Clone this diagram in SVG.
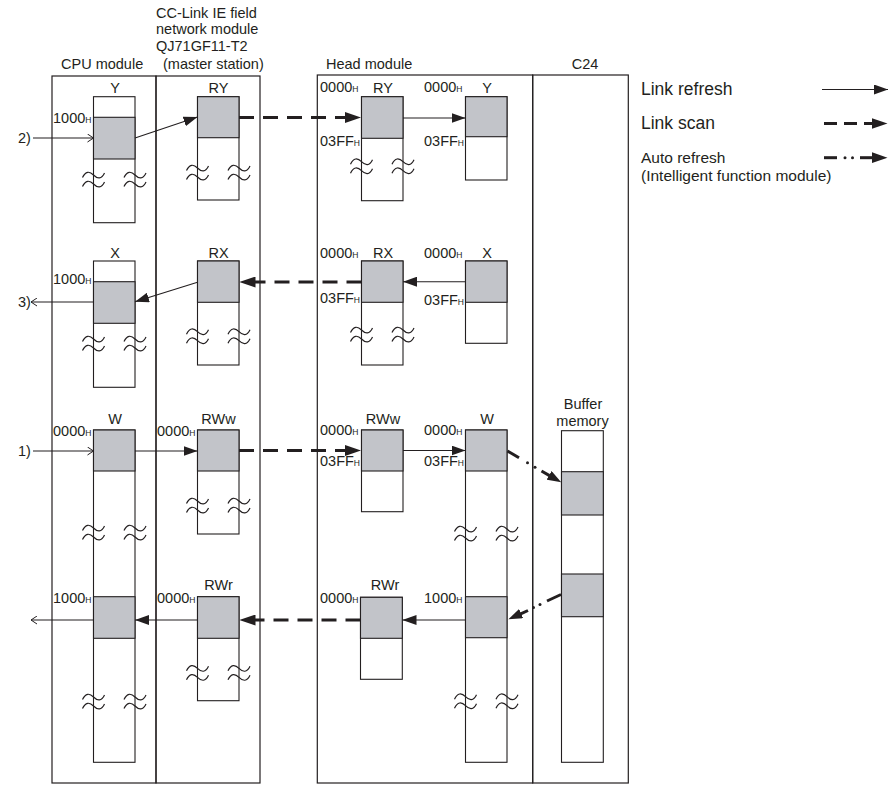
<svg xmlns="http://www.w3.org/2000/svg" width="895" height="785" viewBox="0 0 895 785">
<style>
text{font-family:"Liberation Sans",Arial,sans-serif;fill:#231f20;font-size:14.5px}
.m{text-anchor:middle}
.h{font-size:8.5px}
.box{fill:none;stroke:#231f20;stroke-width:1.2}
.col{fill:#fff;stroke:#231f20;stroke-width:1.1}
.g{fill:#c2c4c9;stroke:#231f20;stroke-width:1.1}
.sq{fill:none;stroke:#231f20;stroke-width:1.2}
.ln{fill:none;stroke:#231f20;stroke-width:1.1}
.ds{fill:none;stroke:#231f20;stroke-width:3;stroke-dasharray:15 9}
.th{fill:none;stroke:#231f20;stroke-width:3}
.dot{fill:#231f20}
.lg{font-size:17.5px}
.lg2{font-size:15.5px}
</style>
<defs>
<marker id="ah" viewBox="0 0 14 10" refX="14" refY="5" markerWidth="14" markerHeight="10" markerUnits="userSpaceOnUse" orient="auto"><path d="M0,0 L14,5 L0,10 Z" fill="#231f20"/></marker>
<marker id="ahd" viewBox="0 0 16 11" refX="0.5" refY="5.5" markerWidth="16" markerHeight="11" markerUnits="userSpaceOnUse" orient="auto"><path d="M0,0 L16,5.5 L0,11 Z" fill="#231f20"/></marker>
<marker id="ahs" viewBox="0 0 14 10" refX="0.5" refY="5" markerWidth="14" markerHeight="10" markerUnits="userSpaceOnUse" orient="auto"><path d="M0,0 L14,5 L0,10 Z" fill="#231f20"/></marker>
<marker id="op" viewBox="0 0 7 9" refX="6.5" refY="4.5" markerWidth="7" markerHeight="9" markerUnits="userSpaceOnUse" orient="auto"><path d="M0.5,0.5 L6.5,4.5 L0.5,8.5" fill="none" stroke="#231f20" stroke-width="1"/></marker>
<g id="sq">
<path class="sq" d="M-11,-2.5 C-8,-9 -4,-9 0,-5 S8,-0.5 11,-7"/>
<path class="sq" d="M-11,6.5 C-8,0 -4,0 0,4 S8,8.5 11,2"/>
</g>
</defs>

<!-- CPU module -->
<g id="cpu-module">
<rect class="box" x="52" y="76" width="104" height="707"/>
<text x="61" y="69">CPU module</text>
<g id="cpu-y">
<text class="m" x="115" y="92.5">Y</text>
<rect class="col" x="93.5" y="96.7" width="41.5" height="126"/>
<rect class="g" x="93.5" y="117.3" width="41.5" height="41.7"/>
<text x="53" y="123">1000<tspan class="h">H</tspan></text>
<use href="#sq" x="93.5" y="180"/><use href="#sq" x="135" y="180"/>
</g>
<g id="cpu-x">
<text class="m" x="115" y="257.5">X</text>
<rect class="col" x="93.5" y="261" width="41.5" height="126.3"/>
<rect class="g" x="93.5" y="281.7" width="41.5" height="41.6"/>
<text x="53" y="284">1000<tspan class="h">H</tspan></text>
<use href="#sq" x="93.5" y="344"/><use href="#sq" x="135" y="344"/>
</g>
<g id="cpu-w">
<text class="m" x="115" y="423.5">W</text>
<rect class="col" x="93.5" y="430" width="41.5" height="332.3"/>
<rect class="g" x="93.5" y="430" width="41.5" height="41"/>
<rect class="g" x="93.5" y="596.7" width="41.5" height="41.6"/>
<text x="53" y="436">0000<tspan class="h">H</tspan></text>
<text x="53" y="602.5">1000<tspan class="h">H</tspan></text>
<use href="#sq" x="93.5" y="533"/><use href="#sq" x="135" y="533"/>
<use href="#sq" x="93.5" y="702"/><use href="#sq" x="135" y="702"/>
</g>
</g>

<!-- CC-Link IE field network module -->
<g id="cclink-module">
<rect class="box" x="156" y="76" width="104" height="707"/>
<text x="156" y="17.5">CC-Link IE field</text>
<text x="156" y="34">network module</text>
<text x="156" y="51">QJ71GF11-T2</text>
<text x="163" y="69">(master station)</text>
<g id="cc-ry">
<text class="m" x="218.5" y="92.5">RY</text>
<rect class="col" x="197.5" y="96.7" width="41.5" height="103.3"/>
<rect class="g" x="197.5" y="96.7" width="41.5" height="41"/>
<use href="#sq" x="197.5" y="173"/><use href="#sq" x="239" y="173"/>
</g>
<g id="cc-rx">
<text class="m" x="218.5" y="257.5">RX</text>
<rect class="col" x="197.5" y="261" width="41.5" height="104"/>
<rect class="g" x="197.5" y="261" width="41.5" height="41.3"/>
<use href="#sq" x="197.5" y="336.7"/><use href="#sq" x="239" y="336.7"/>
</g>
<g id="cc-rww">
<text class="m" x="218.5" y="423.5">RWw</text>
<rect class="col" x="197.5" y="430" width="41.5" height="104"/>
<rect class="g" x="197.5" y="430" width="41.5" height="41"/>
<text x="157" y="436">0000<tspan class="h">H</tspan></text>
<use href="#sq" x="197.5" y="506"/><use href="#sq" x="239" y="506"/>
</g>
<g id="cc-rwr">
<text class="m" x="218.5" y="589.5">RWr</text>
<rect class="col" x="197.5" y="596.7" width="41.5" height="104"/>
<rect class="g" x="197.5" y="596.7" width="41.5" height="41.6"/>
<text x="157" y="602.5">0000<tspan class="h">H</tspan></text>
<use href="#sq" x="197.5" y="673.3"/><use href="#sq" x="239" y="673.3"/>
</g>
</g>

<!-- Head module -->
<g id="head-module">
<rect class="box" x="317.3" y="75" width="215.4" height="708"/>
<text x="326" y="69">Head module</text>
<g id="head-ry">
<text class="m" x="383" y="92.5">RY</text>
<text x="320" y="91.5">0000<tspan class="h">H</tspan></text>
<rect class="col" x="361.5" y="96.7" width="41.5" height="104"/>
<rect class="g" x="361.5" y="96.7" width="41.5" height="41.6"/>
<text x="320" y="146">03FF<tspan class="h">H</tspan></text>
<use href="#sq" x="361.5" y="166.7"/><use href="#sq" x="403" y="166.7"/>
</g>
<g id="head-y">
<text class="m" x="487" y="92.5">Y</text>
<text x="424" y="91.5">0000<tspan class="h">H</tspan></text>
<rect class="col" x="465.5" y="96.7" width="41.5" height="83.3"/>
<rect class="g" x="465.5" y="96.7" width="41.5" height="40"/>
<text x="424" y="146">03FF<tspan class="h">H</tspan></text>
</g>
<g id="head-rx">
<text class="m" x="383" y="257.5">RX</text>
<text x="320" y="257.5">0000<tspan class="h">H</tspan></text>
<rect class="col" x="361.5" y="261" width="41.5" height="104"/>
<rect class="g" x="361.5" y="261" width="41.5" height="41.3"/>
<text x="320" y="303">03FF<tspan class="h">H</tspan></text>
<use href="#sq" x="361.5" y="335"/><use href="#sq" x="403" y="335"/>
</g>
<g id="head-x">
<text class="m" x="487" y="257.5">X</text>
<text x="424" y="257.5">0000<tspan class="h">H</tspan></text>
<rect class="col" x="465.5" y="261" width="41.5" height="82.3"/>
<rect class="g" x="465.5" y="261" width="41.5" height="41.3"/>
<text x="424" y="305">03FF<tspan class="h">H</tspan></text>
</g>
<g id="head-rww">
<text class="m" x="383" y="423.5">RWw</text>
<text x="320" y="435">0000<tspan class="h">H</tspan></text>
<rect class="col" x="361.5" y="430" width="41.5" height="81.7"/>
<rect class="g" x="361.5" y="430" width="41.5" height="41"/>
<text x="320" y="466">03FF<tspan class="h">H</tspan></text>
</g>
<g id="head-w">
<text class="m" x="487" y="423.5">W</text>
<text x="424" y="435">0000<tspan class="h">H</tspan></text>
<rect class="col" x="465.5" y="430" width="41.5" height="332.3"/>
<rect class="g" x="465.5" y="430" width="41.5" height="41"/>
<rect class="g" x="465.5" y="596.7" width="41.5" height="41"/>
<text x="424" y="466">03FF<tspan class="h">H</tspan></text>
<text x="424" y="603">1000<tspan class="h">H</tspan></text>
<use href="#sq" x="465.5" y="534"/><use href="#sq" x="507" y="534"/>
<use href="#sq" x="465.5" y="701.7"/><use href="#sq" x="507" y="701.7"/>
</g>
<g id="head-rwr">
<text class="m" x="385" y="590">RWr</text>
<text x="320" y="603">0000<tspan class="h">H</tspan></text>
<rect class="col" x="360.5" y="597.3" width="41.8" height="82"/>
<rect class="g" x="360.5" y="597.3" width="41.8" height="41"/>
</g>
</g>

<!-- C24 -->
<g id="c24-module">
<rect class="box" x="532.7" y="75" width="95.6" height="708"/>
<text class="m" x="585" y="69">C24</text>
<g id="buffer-memory">
<text class="m" x="583" y="409">Buffer</text>
<text class="m" x="582.5" y="426">memory</text>
<rect class="col" x="561.5" y="430.7" width="41.8" height="331.6"/>
<rect class="g" x="561.5" y="471.7" width="41.8" height="43.3"/>
<rect class="g" x="561.5" y="574" width="41.8" height="42.7"/>
</g>
</g>

<!-- connectors -->
<g id="connectors">
<text x="18" y="143">2)</text>
<text x="18" y="307">3)</text>
<text x="18" y="456">1)</text>
<line class="ln" x1="33" y1="138" x2="93.5" y2="138" marker-end="url(#op)"/>
<line class="ln" x1="135" y1="138" x2="197.5" y2="117" marker-end="url(#ah)"/>
<line class="ds" x1="239" y1="117.5" x2="345.5" y2="117.5" marker-end="url(#ahd)"/>
<line class="ln" x1="403" y1="118" x2="465.5" y2="118" marker-end="url(#ah)"/>

<line class="ln" x1="465.5" y1="281.7" x2="403" y2="281.7" marker-end="url(#ah)"/>
<line class="ds" x1="361.5" y1="282" x2="255" y2="282" marker-end="url(#ahd)"/>
<line class="ln" x1="197.5" y1="282.3" x2="135" y2="301.7" marker-end="url(#ah)"/>
<line class="ln" x1="93.5" y1="302" x2="31" y2="302" marker-end="url(#op)"/>

<line class="ln" x1="33" y1="451" x2="93.5" y2="451" marker-end="url(#op)"/>
<line class="ln" x1="135" y1="451" x2="197.5" y2="451" marker-end="url(#ah)"/>
<line class="ds" x1="239" y1="450.5" x2="345.5" y2="450.5" marker-end="url(#ahd)"/>
<line class="ln" x1="403" y1="450.5" x2="465.5" y2="450.5" marker-end="url(#ah)"/>

<line class="th" x1="507.5" y1="451" x2="519" y2="457.7"/>
<circle class="dot" cx="527.5" cy="462.7" r="1.5"/>
<circle class="dot" cx="535" cy="467.3" r="1.5"/>
<line class="th" x1="541.5" y1="471" x2="549.5" y2="475.6" marker-end="url(#ahs)"/>

<line class="th" x1="561" y1="594.5" x2="547" y2="601"/>
<circle class="dot" cx="540" cy="604.5" r="1.5"/>
<circle class="dot" cx="533.5" cy="607.5" r="1.5"/>
<line class="th" x1="528" y1="610.5" x2="520.7" y2="613.8" marker-end="url(#ahs)"/>

<line class="ln" x1="465.5" y1="620" x2="402.5" y2="620" marker-end="url(#ah)"/>
<line class="ds" x1="360.5" y1="620" x2="255" y2="620" marker-end="url(#ahd)"/>
<line class="ln" x1="197.5" y1="620" x2="135" y2="620" marker-end="url(#ah)"/>
<line class="ln" x1="93.5" y1="620" x2="31" y2="620" marker-end="url(#op)"/>
</g>

<!-- legend -->
<g id="legend">
<text class="lg" x="641" y="95">Link refresh</text>
<line class="ln" x1="822" y1="89.5" x2="888" y2="89.5" marker-end="url(#ah)"/>
<text class="lg" x="641" y="129">Link scan</text>
<line class="th" x1="824" y1="123.5" x2="872" y2="123.5" style="stroke-dasharray:13 7" marker-end="url(#ahd)"/>
<text class="lg2" x="641" y="163">Auto refresh</text>
<text class="lg2" x="641" y="181">(Intelligent function module)</text>
<line class="th" x1="824" y1="157.7" x2="837" y2="157.7"/>
<circle class="dot" cx="845" cy="157.7" r="1.5"/>
<circle class="dot" cx="852.5" cy="157.7" r="1.5"/>
<line class="th" x1="860" y1="157.7" x2="872" y2="157.7" marker-end="url(#ahd)"/>
</g>
</svg>
